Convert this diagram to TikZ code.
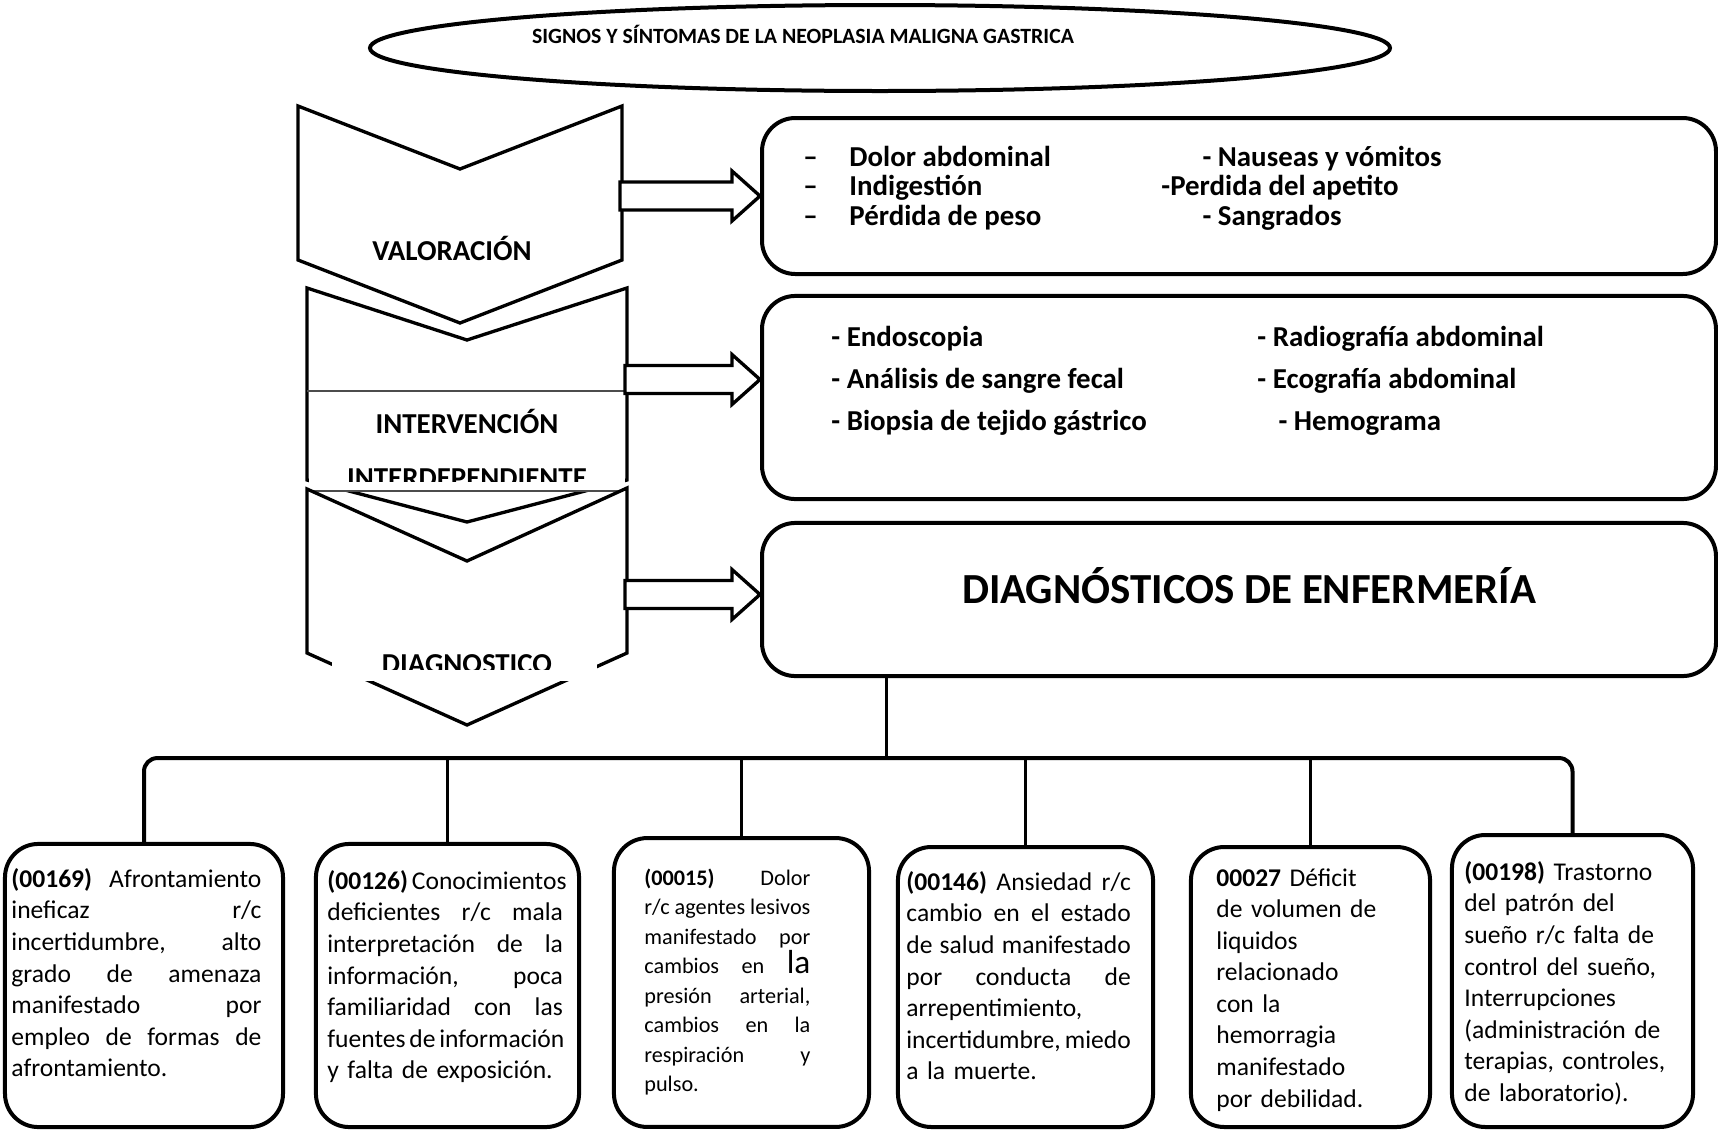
\documentclass[tikz,border=0pt]{standalone}
\usepackage{fontspec}
\setmainfont{Carlito}
\usetikzlibrary{positioning, shapes.geometric, calc}

\newcommand{\jline}[1]{{\spaceskip=0pt\xspaceskip=0pt\makebox[\hsize][s]{#1}}}
\newcommand{\dashitem}[1]{\makebox[20.7pt][l]{–}#1}

\begin{document}
\begin{tikzpicture}[x=0.45pt, y=-0.45pt,
    chev/.style={draw, line width=1.5pt, fill=white, line join=miter},
    rbox/.style={draw, rectangle, rounded corners=15pt, line width=1.8pt, minimum width=429.3pt},
    dbox/.style={draw, rectangle, rounded corners=15pt, line width=1.8pt},
    bigarrow/.style={draw, line width=1.5pt, fill=white},
    heading/.style={font=\bfseries\fontsize{13}{15}\selectfont, inner sep=0pt},
    list/.style={font=\bfseries\fontsize{13}{13.3}\selectfont, align=left, inner sep=0pt, anchor=west},
    dxtext/.style={font=\fontsize{11.5}{14.2}\selectfont, align=left, inner sep=0pt, anchor=north west},
    bar/.style={line width=1.8pt, rounded corners=6pt},
    drop/.style={line width=1pt}]

    \useasboundingbox (0,0) rectangle (1718,1135);

    % Title
    \node[draw, ellipse, line width=1.8pt, minimum width=459pt, minimum height=38.7pt] (titleell) at (880,48) {};
    \node[font=\bfseries\fontsize{9.8}{12}\selectfont, inner sep=0pt] (title) at (803,34) {SIGNOS Y SÍNTOMAS DE LA NEOPLASIA MALIGNA GASTRICA};

    % Chevrons
    \draw[chev] (298,106) -- (460,169) -- (622,106) -- (622,260) -- (460,323) -- (298,260) -- cycle;
    \node[heading] (val) at (452,248) {VALORACIÓN};

    \draw[chev] (307,288) -- (467,340) -- (627,288) -- (627,480) -- (467,522) -- (307,480) -- cycle;
    \fill[white] (309,391) rectangle (625,491);
    \draw[line width=0.5pt, black!70] (307,391) -- (627,391) (307,491) -- (627,491);
    \begin{scope}
        \clip (307,391) rectangle (627,481);
        \node[heading] (inter) at (467,421) {INTERVENCIÓN};
        \node[heading] (inter2) at (467,478) {INTERDEPENDIENTE};
    \end{scope}

    \draw[chev] (307,489) -- (467,561) -- (627,488) -- (627,653) -- (467,725) -- (307,653) -- cycle;
    \fill[white] (332,600) rectangle (597,681);
    \begin{scope}
        \clip (332,600) rectangle (597,669);
        \node[heading] (diagn) at (467,664) {DIAGNOSTICO};
    \end{scope}

    % Right boxes
    \node[rbox, minimum height=70.2pt] (sym) at (1239,196) {};
    \node[rbox, minimum height=91.4pt] (lab) at (1239,397.5) {};
    \node[rbox, minimum height=68.9pt] (diag) at (1239,599.5) {};

    \node[list] (symleft) at (803,188) {\dashitem{Dolor abdominal}\\\dashitem{Indigestión}\\\dashitem{Pérdida de peso}};
    \node[list] (symright) at (1161,188) {\hspace*{18.5pt}- Nauseas y vómitos\\-Perdida del apetito\\\hspace*{18.5pt}- Sangrados};

    \node[list, font=\bfseries\fontsize{13}{18.9}\selectfont] (lableft) at (831,381) {- Endoscopia\\- Análisis de sangre fecal\\- Biopsia de tejido gástrico};
    \node[list, font=\bfseries\fontsize{13}{18.9}\selectfont] (labright) at (1257,381) {- Radiografía abdominal\\- Ecografía abdominal\\\hspace*{9.5pt}- Hemograma};

    \node[font=\bfseries\fontsize{19.3}{22}\selectfont, inner sep=0pt] (diagtitle) at ($(diag.center)+(10,-14)$) {DIAGNÓSTICOS DE ENFERMERÍA};

    % Block arrows
    \foreach \bx/\dy/\len in {sym/0/112, lab/-18/107, diag/-5/107}
        \draw[bigarrow] ($(\bx.west)+(0,\dy)$) -- ++(-28,-25) -- ++(0,11) -- ++(-\len,0) -- ++(0,28) -- ++(\len,0) -- ++(0,11) -- cycle;

    % Diagnosis boxes
    \node[dbox, minimum width=125.1pt, minimum height=127.4pt] (b1) at (144,985.5) {};
    \node[dbox, minimum width=118.4pt, minimum height=127.4pt] (b2) at (447.5,985.5) {};
    \node[dbox, minimum width=114.8pt, minimum height=130pt] (b3) at (741.5,982.5) {};
    \node[dbox, minimum width=114.8pt, minimum height=126pt] (b4) at (1025.5,987) {};
    \node[dbox, minimum width=107.6pt, minimum height=126pt] (b5) at (1310.5,987) {};
    \node[dbox, minimum width=108.5pt, minimum height=131.4pt] (b6) at (1572.5,981) {};

    \node[dxtext, text width=112.5pt] (t1) at ($(b1.north west)+(8,26)$) {\jline{\textbf{(00169)} Afrontamiento}\\ \jline{ineficaz r/c}\\ \jline{incertidumbre, alto}\\ \jline{grado de amenaza}\\ \jline{manifestado por}\\ \jline{empleo de formas de}\\ afrontamiento.};
    \node[dxtext, text width=106pt] (t2) at ($(b2.north west)+(13,28)$) {\jline{\textbf{(00126)} Conocimientos}\\ \jline{deficientes r/c mala}\\ \jline{interpretación de la}\\ \jline{información, poca}\\ \jline{familiaridad con las}\\ \jline{fuentes de información}\\ y falta de exposición.};
    \node[dxtext, text width=74.7pt, font=\fontsize{10}{13.3}\selectfont] (t3) at ($(b3.north west)+(32,32)$) {\jline{\textbf{(00015)} Dolor}\\ \jline{r/c agentes lesivos}\\ \jline{manifestado por}\\ \jline{cambios en {\fontsize{15}{13.3}\selectfont la}}\\ \jline{presión arterial,}\\ \jline{cambios en la}\\ \jline{respiración y}\\ pulso.};
    \node[dxtext, text width=101pt] (t4) at ($(b4.north west)+(10,26)$) {\jline{\textbf{(00146)} Ansiedad r/c}\\ \jline{cambio en el estado}\\ \jline{de salud manifestado}\\ \jline{por conducta de}\\ arrepentimiento,\\ \jline{incertidumbre, miedo}\\ a la muerte.};
    \node[dxtext, text width=80pt] (t5) at ($(b5.north west)+(27,23)$) {\textbf{00027} Déficit\\ de volumen de\\ liquidos\\ relacionado\\ con la\\ hemorragia\\ manifestado\\ por debilidad.};
    \node[dxtext, text width=100pt] (t6) at ($(b6.north west)+(14,28)$) {\textbf{(00198)} Trastorno\\ del patrón del\\ sueño r/c falta de\\ control del sueño,\\ Interrupciones\\ (administración de\\ terapias, controles,\\ de laboratorio).};

    % Tree
    \coordinate (stem) at ($(diag.south west)!0.132!(diag.south east)$);
    \coordinate (fork) at ($(stem)+(0,80)$);
    \draw[drop] (stem) -- (fork);
    \draw[bar] (b1.north) -- (b1.north |- fork) -- (b6.north |- fork) -- (b6.north);
    \foreach \bx in {b2,b3,b4,b5}
        \draw[drop] (\bx.north |- fork) -- (\bx.north);
\end{tikzpicture}
\end{document}
